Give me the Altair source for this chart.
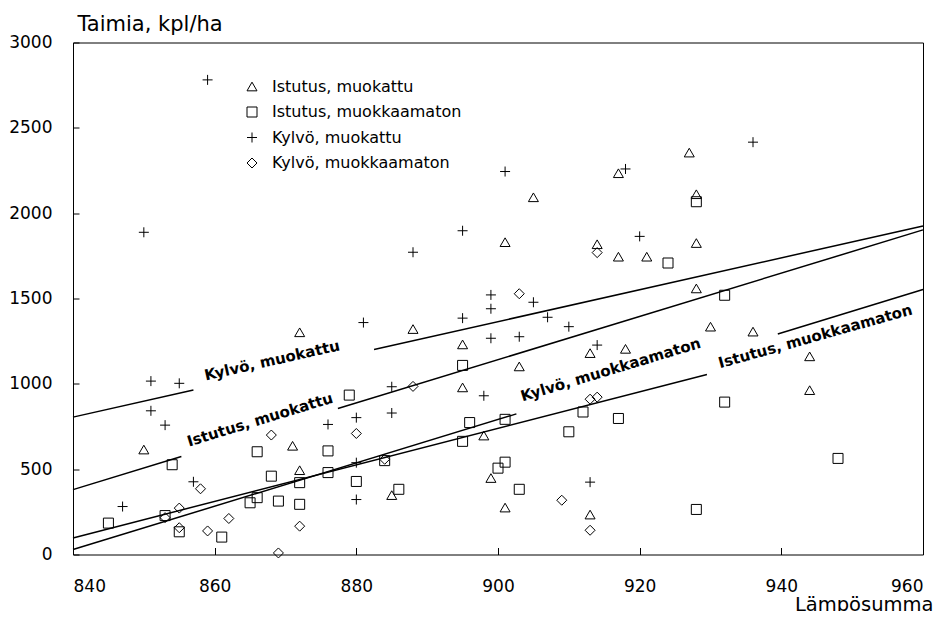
import altair as alt
import pandas as pd

# ---- data ----
series_names = ["Istutus, muokattu", "Istutus, muokkaamaton", "Kylvö, muokattu", "Kylvö, muokkaamaton"]

im_x = [850, 872, 888, 895, 895, 871, 872, 885, 903, 898, 899, 901, 913, 913, 918, 930, 936, 944, 944,
        927, 917, 905, 928, 901, 914, 917, 921, 928, 928]
im_y = [615, 1302, 1321, 1231, 979, 637, 494, 348, 1102, 697, 448, 275, 234, 1180, 1205, 1335, 1306, 1161, 963,
        2355, 2234, 2093, 2111, 1830, 1818, 1745, 1745, 1825, 1559]

iu_x = [895, 895, 896, 901, 900, 901, 903, 910, 912, 932, 948, 928, 928, 924, 932, 917, 879, 876, 876, 884,
        880, 886, 866, 854, 868, 872, 845, 853, 855, 861, 865, 866, 869, 872]
iu_y = [1108, 663, 773, 792, 506, 541, 382, 719, 835, 893, 563, 264, 2067, 1708, 1519, 797, 934, 607, 480, 550,
        428, 382, 602, 526, 459, 421, 184, 228, 133, 102, 303, 333, 313, 294]

km_x = [859, 850, 888, 895, 901, 936, 918, 920, 899, 905, 895, 899, 907, 910, 899, 903, 898, 914, 913, 881,
        885, 885, 880, 876, 880, 880, 851, 855, 851, 853, 857, 847]
km_y = [2781, 1888, 1771, 1897, 2244, 2416, 2259, 1864, 1521, 1478, 1385, 1440, 1390, 1335, 1267, 1276, 930, 1227, 424, 1359,
        983, 829, 802, 762, 538, 322, 1016, 1003, 842, 758, 426, 281]

ku_x = [914, 903, 909, 913, 913, 914, 888, 880, 868, 884, 858, 853, 855, 855, 859, 862, 872, 869]
ku_y = [1769, 1528, 318, 142, 910, 922, 985, 709, 700, 558, 385, 216, 272, 157, 138, 211, 166, 9]

# regression lines: visible segments (start x, start y, end x, end y)
line_names = ["Kylvö, muokattu", "Kylvö, muokattu", "Istutus, muokattu", "Istutus, muokattu",
              "Kylvö, muokkaamaton", "Kylvö, muokkaamaton", "Istutus, muokkaamaton"]
seg_x0 = [840, 882.5, 840, 877.4, 840, 939.5, 840]
seg_y0 = [805, 1201, 380, 855, 29, 1292, 97]
seg_x1 = [857, 960, 855.3, 960, 902.6, 960, 929.5]
seg_y1 = [964, 1925, 574, 1902, 824, 1553, 1055]

# line labels
lab_text = ["Kylvö, muokattu", "Istutus, muokattu", "Kylvö, muokkaamaton", "Istutus, muokkaamaton"]
lab_x = [868.1, 866.4, 915.9, 944.8]
lab_y = [1137, 790, 1083, 1278]
lab_angle = [347.3, 343.0, 343.2, 344.3]

x_ticks = [840, 860, 880, 900, 920, 940, 960]
y_ticks = [0, 500, 1000, 1500, 2000, 2500, 3000]

# ---- tables ----
rows = []
for name, xs, ys in zip(series_names, [im_x, iu_x, km_x, ku_x], [im_y, iu_y, km_y, ku_y]):
    for a, b in zip(xs, ys):
        rows.append({"sarja": name, "x": a, "y": b})
pts = pd.DataFrame(rows)

lrows = []
for i, (n, a0, b0, a1, b1) in enumerate(zip(line_names, seg_x0, seg_y0, seg_x1, seg_y1)):
    lrows.append({"seg": i, "line": n, "x": a0, "y": b0})
    lrows.append({"seg": i, "line": n, "x": a1, "y": b1})
lines = pd.DataFrame(lrows)

labs = pd.DataFrame({"text": lab_text, "x": lab_x, "y": lab_y, "angle": lab_angle})

FONT = "DejaVu Sans"

xscale = alt.Scale(domain=[840, 960], nice=False, zero=False)
yscale = alt.Scale(domain=[0, 3000], nice=False, zero=False)

xax = alt.Axis(values=x_ticks, format="d", orient="bottom", offset=-7, tickSize=7, domain=False, grid=False,
               labelPadding=24, labelFontSize=17, labelFont=FONT, labelColor="black", tickColor="black",
               title="Lämpösumma", titleFont=FONT, titleFontSize=19.5, titleFontWeight="normal",
               titleColor="black", titleAlign="right", titleBaseline="alphabetic",
               titleX=860, titleY=63, titleAngle=0)
yax = alt.Axis(values=y_ticks, format="d", orient="left", offset=-6, tickSize=6, domain=False, grid=False,
               labelPadding=21, labelFontSize=17, labelFont=FONT, labelColor="black", tickColor="black",
               title="Taimia, kpl/ha", titleFont=FONT, titleFontSize=21, titleFontWeight="normal",
               titleColor="black", titleAlign="left", titleBaseline="alphabetic",
               titleX=-2, titleY=-11.8, titleAngle=0)

shapes = ["triangle-up", "square", "M-1,0L1,0M0,-1L0,1", "diamond"]

points = alt.Chart(pts).mark_point(filled=False, color="black", strokeWidth=1, size=100, opacity=1).encode(
    x=alt.X("x:Q", scale=xscale, axis=xax),
    y=alt.Y("y:Q", scale=yscale, axis=yax),
    shape=alt.Shape("sarja:N", scale=alt.Scale(domain=series_names, range=shapes),
                    legend=alt.Legend(title=None, orient="none", legendX=171, legendY=36, padding=0,
                                      labelFont=FONT, labelFontSize=16, labelColor="black", labelLimit=0,
                                      symbolStrokeColor="black", symbolFillColor="transparent",
                                      symbolStrokeWidth=1, symbolSize=100, rowPadding=9.5,
                                      labelOffset=12, symbolOpacity=1)),
)

reglines = alt.Chart(lines).mark_line(color="black", strokeWidth=1.5).encode(
    x=alt.X("x:Q", scale=xscale),
    y=alt.Y("y:Q", scale=yscale),
    detail="seg:N",
)

labels = alt.Chart(labs).mark_text(font=FONT, fontWeight="bold", fontSize=15, align="center",
                                   baseline="middle", color="black").encode(
    x=alt.X("x:Q", scale=xscale),
    y=alt.Y("y:Q", scale=yscale),
    text="text:N",
    angle=alt.Angle("angle:Q", scale=None),
)

chart = alt.layer(reglines, points, labels).properties(
    width=850, height=512,
    padding={"left": 65, "top": 34.5, "right": 12, "bottom": 56.5},
    autosize=alt.AutoSizeParams(type="none"),
    background="white",
).configure_view(stroke="black", strokeWidth=1)

chart.save("out.html", embed_options={"renderer": "svg", "actions": False})
